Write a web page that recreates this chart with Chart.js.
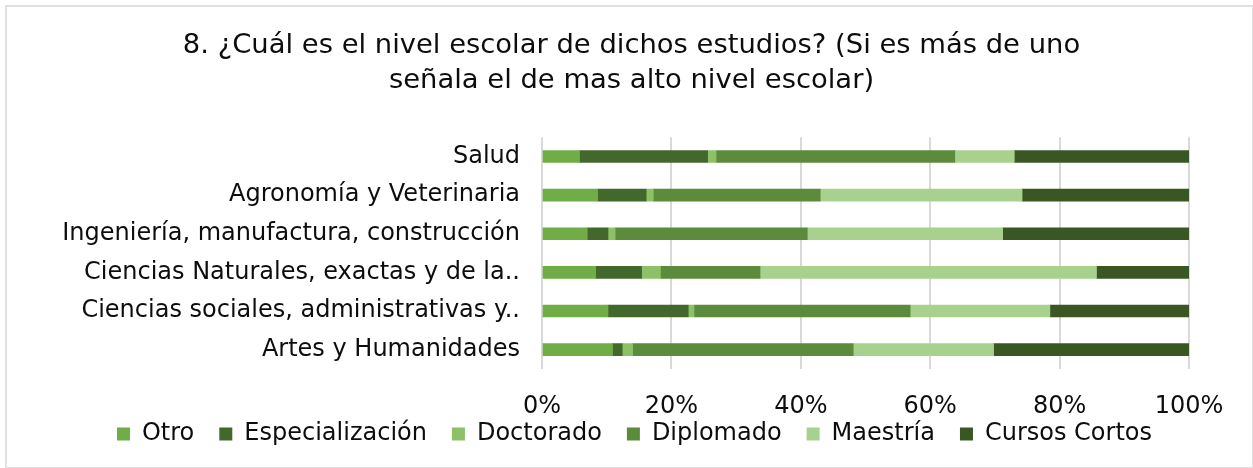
<!DOCTYPE html>
<html>
<head>
<meta charset="utf-8">
<script src="https://cdn.jsdelivr.net/npm/chart.js@4/dist/chart.umd.min.js"></script>
<style>
  html, body { margin: 0; padding: 0; background: #fff; }
  #wrap { position: absolute; left: 5px; top: 5px; width: 1245px; height: 460px; border: 2px solid #e0e0e0; }
  #c { position: absolute; left: 0; top: 0; }
</style>
</head>
<body>
<div id="wrap"></div>
<canvas id="c" width="1253" height="468"></canvas>
<script>
const categories = [
  "Salud",
  "Agronomía y Veterinaria",
  "Ingeniería, manufactura, construcción",
  "Ciencias Naturales, exactas y de la..",
  "Ciencias sociales, administrativas y..",
  "Artes y Humanidades"
];
const seriesNames = ["Otro", "Especialización", "Doctorado", "Diplomado", "Maestría", "Cursos Cortos"];
const otro            = [5.8, 8.6, 7.0, 8.3, 10.2, 10.9];
const especializacion = [19.8, 7.5, 3.2, 7.1, 12.4, 1.5];
const doctorado       = [1.3, 1.1, 1.1, 2.9, 0.9, 1.6];
const diplomado       = [36.9, 25.8, 29.7, 15.4, 33.4, 34.1];
const maestria        = [9.2, 31.2, 30.2, 52.0, 21.6, 21.7];
const cursosCortos    = [27.0, 25.8, 28.8, 14.3, 21.5, 30.2];
const tickValues = [0, 20, 40, 60, 80, 100];
const colors = ["#70AD47", "#43682B", "#8CC168", "#5B8B3B", "#A9D18E", "#3A5723"];

const seriesData = [otro, especializacion, doctorado, diplomado, maestria, cursosCortos];
const FONT = "'DejaVu Sans', Verdana, sans-serif";
const TXT = "#0d0d0d";

// Legend: wide horizontal spacing without the matching vertical padding
const legendTweak = {
  id: 'legendTweak',
  beforeLayout(chart) {
    const lg = chart.legend;
    if (!lg || lg._tweaked) return;
    lg._tweaked = true;
    const fit = lg.fit.bind(lg);
    lg.fit = function () { fit(); this.height = 52; };
    const draw = lg.draw.bind(lg);
    lg.draw = function (area) {
      const c = this.ctx;
      c.save();
      c.translate(3, -19);
      draw(area);
      c.restore();
    };
  }
};

new Chart(document.getElementById('c'), {
  type: 'bar',
  data: {
    labels: categories,
    datasets: seriesNames.map((n, i) => ({
      label: n,
      data: seriesData[i],
      backgroundColor: colors[i],
      borderWidth: 0,
      barThickness: 12
    }))
  },
  plugins: [legendTweak],
  options: {
    indexAxis: 'y',
    responsive: false,
    animation: false,
    devicePixelRatio: 1,
    layout: { padding: { top: 20, bottom: 0, left: 10, right: 0 } },
    plugins: {
      title: {
        display: true,
        text: ["8. ¿Cuál es el nivel escolar de dichos estudios? (Si es más de uno", "señala el de mas alto nivel escolar)"],
        color: TXT,
        font: { family: FONT, size: 27.4, weight: 'normal', lineHeight: 1.28 },
        padding: { top: 8, bottom: 39 }
      },
      legend: {
        position: 'bottom',
        labels: {
          color: TXT,
          font: { family: FONT, size: 24 },
          boxWidth: 13,
          boxHeight: 13,
          padding: 25
        }
      },
      tooltip: { enabled: false }
    },
    scales: {
      x: {
        stacked: true,
        min: 0,
        max: 100,
        afterBuildTicks: (s) => { s.ticks = tickValues.map(v => ({ value: v })); },
        afterFit: (s) => { s.height = 47; },
        ticks: {
          color: TXT,
          font: { family: FONT, size: 24 },
          padding: 23,
          callback: (v) => v + '%'
        },
        grid: { color: '#d9d9d9', lineWidth: 2, drawTicks: false },
        border: { display: false }
      },
      y: {
        stacked: true,
        ticks: {
          color: TXT,
          font: { family: FONT, size: 24 },
          padding: 22,
          autoSkip: false
        },
        grid: { display: false, drawTicks: false },
        border: { display: false },
        afterFit: (s) => { s.width = 532; }
      },
      y2: {
        type: 'linear',
        position: 'right',
        display: true,
        ticks: { display: false },
        grid: { display: false, drawTicks: false },
        border: { display: false },
        afterFit: (s) => { s.width = 64; }
      }
    }
  }
});
</script>
</body>
</html>
